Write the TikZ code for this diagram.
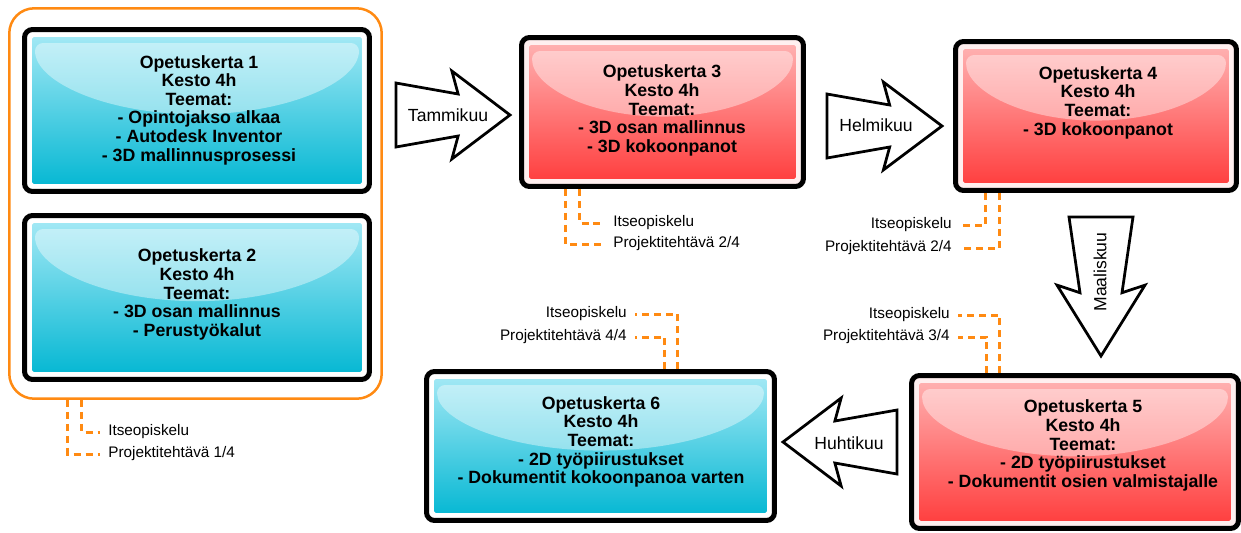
\documentclass[tikz,border=0pt]{standalone}
\usepackage{fontspec}
\setmainfont{Liberation Sans}
\usepackage{tikz}
\usetikzlibrary{calc}

\definecolor{syaani1}{HTML}{A8EAF6}
\definecolor{syaani2}{HTML}{00B6D2}
\definecolor{puna1}{HTML}{FFB5B5}
\definecolor{puna2}{HTML}{FF3A3A}
\definecolor{punarako}{HTML}{FFEFEF}
\definecolor{oranssi}{HTML}{FF8A12}

% gradient fill and glossy top for the lesson boxes
\newcommand{\kiilto}[2]{%
  \shade[top color=#1, bottom color=#2, rounded corners=1pt]
    ([shift={(0.15cm,0.15cm)}]path picture bounding box.south west) rectangle
    ([shift={(-0.15cm,-0.15cm)}]path picture bounding box.north east);
  \fill[white, opacity=0.4]
    let \p1=(path picture bounding box.north west),
        \p2=(path picture bounding box.south east) in
    (\x1+0.21cm,\y1-0.27cm)
      arc[start angle=180, end angle=360,
          x radius={(\x2-\x1)/2-0.21cm}, y radius={0.44*(\y1-\y2)}] -- cycle;
}

\begin{document}
\begin{tikzpicture}[
    x=0.02cm, y=-0.02cm,
    kerta/.style={draw=black, line width=0.1cm, rounded corners=0.16cm, inner sep=0pt},
    syaani/.style={kerta, fill=white, path picture={\kiilto{syaani1}{syaani2}}},
    puna/.style={kerta, fill=punarako, path picture={\kiilto{puna1}{puna2}}},
    teksti/.style={align=center, inner sep=0pt, font=\bfseries\fontsize{10.1}{10.6}\selectfont},
    ryhma/.style={draw=oranssi, line width=0.05cm, rounded corners=0.5cm},
    pieni/.style={inner xsep=0.16cm, inner ysep=0pt, font=\fontsize{8.7}{10}\selectfont},
    katko/.style={draw=oranssi, line width=0.06cm, dash pattern=on 0.14cm off 0.1cm},
    kuu/.style={inner sep=0pt, font=\fontsize{10}{12}\selectfont},
    pics/lohkonuoli/.style={code={
      \draw[line width=0.055cm, fill=white]
        (-#1/2,-32) -- (#1*0.045,-21) -- (-#1*0.01,-44) -- (#1/2,0)
        -- (-#1*0.01,44) -- (#1*0.045,21) -- (-#1/2,32) -- cycle;
    }}
]
\useasboundingbox (0,0) rectangle (1241,532);

% lesson boxes
\node (ryhma) [ryhma, minimum width=7.45cm, minimum height=7.81cm] at (195.5,203.5) {};
\node (k1) [syaani, minimum width=6.9cm, minimum height=3.24cm] at (197,110.5) {};
\node (k2) [syaani, minimum width=6.9cm, minimum height=3.28cm] at (197,297.5) {};
\node (k3) [puna, minimum width=5.64cm, minimum height=2.98cm] at (662.5,112) {};
\node (k4) [puna, minimum width=5.62cm, minimum height=2.98cm] at (1096,116) {};
\node (k5) [puna, minimum width=6.54cm, minimum height=3.06cm] at (1075,452) {};
\node (k6) [syaani, minimum width=6.96cm, minimum height=2.98cm] at (600.5,446) {};

\node (t1) [teksti] at (199,110) {Opetuskerta 1\\Kesto 4h\\Teemat:\\- Opintojakso alkaa\\- Autodesk Inventor\\- 3D mallinnusprosessi};
\node (t2) [teksti] at (197,294.5) {Opetuskerta 2\\Kesto 4h\\Teemat:\\- 3D osan mallinnus\\- Perustyökalut};
\node (t3) [teksti] at (662,110.5) {Opetuskerta 3\\Kesto 4h\\Teemat:\\- 3D osan mallinnus\\- 3D kokoonpanot};
\node (t4) [teksti] at (1098,102.5) {Opetuskerta 4\\Kesto 4h\\Teemat:\\- 3D kokoonpanot};
\node (t5) [teksti] at (1083,445.5) {Opetuskerta 5\\Kesto 4h\\Teemat:\\- 2D työpiirustukset\\- Dokumentit osien valmistajalle};
\node (t6) [teksti] at (601,442) {Opetuskerta 6\\Kesto 4h\\Teemat:\\- 2D työpiirustukset\\- Dokumentit kokoonpanoa varten};

% month arrows
\pic at (453,115) {lohkonuoli=114};
\pic at (884.5,126) {lohkonuoli=115};
\pic[rotate=-90] at (1101,286.5) {lohkonuoli=139};
\pic[rotate=180] at (840,442) {lohkonuoli=114};

\node (tammi) [kuu] at (448,115) {Tammikuu};
\node (helmi) [kuu] at (876,125) {Helmikuu};
\node (maalis) [kuu, rotate=90] at (1100,272) {Maaliskuu};
\node (huhti) [kuu] at (849,443) {Huhtikuu};

% self study and project labels
\node (i1) [pieni, anchor=west] at (100,432) {Itseopiskelu};
\node (p1) [pieni, anchor=west] at (100,454) {Projektitehtävä 1/4};
\node (i3) [pieni, anchor=west] at (605,223) {Itseopiskelu};
\node (p3) [pieni, anchor=west] at (605,244) {Projektitehtävä 2/4};
\node (i4) [pieni, anchor=east] at (960,225) {Itseopiskelu};
\node (p4) [pieni, anchor=east] at (960,248) {Projektitehtävä 2/4};
\node (i5) [pieni, anchor=east] at (958,315) {Itseopiskelu};
\node (p5) [pieni, anchor=east] at (958,337) {Projektitehtävä 3/4};
\node (i6) [pieni, anchor=east] at (635,314) {Itseopiskelu};
\node (p6) [pieni, anchor=east] at (635,337) {Projektitehtävä 4/4};

\draw [katko] ([xshift=1.475cm]ryhma.south west) |- (i1);
\draw [katko] ([xshift=1.195cm]ryhma.south west) |- (p1);
\draw [katko] ([xshift=1.21cm]k3.south west) |- (i3);
\draw [katko] ([xshift=0.93cm]k3.south west) |- (p3);
\draw [katko] ([xshift=0.65cm]k4.south west) |- (i4);
\draw [katko] ([xshift=0.93cm]k4.south west) |- (p4);
\draw [katko] ([xshift=1.81cm]k5.north west) |- (i5);
\draw [katko] ([xshift=1.55cm]k5.north west) |- (p5);
\draw [katko] ([xshift=5.07cm]k6.north west) |- (i6);
\draw [katko] ([xshift=4.81cm]k6.north west) |- (p6);

\end{tikzpicture}
\end{document}
